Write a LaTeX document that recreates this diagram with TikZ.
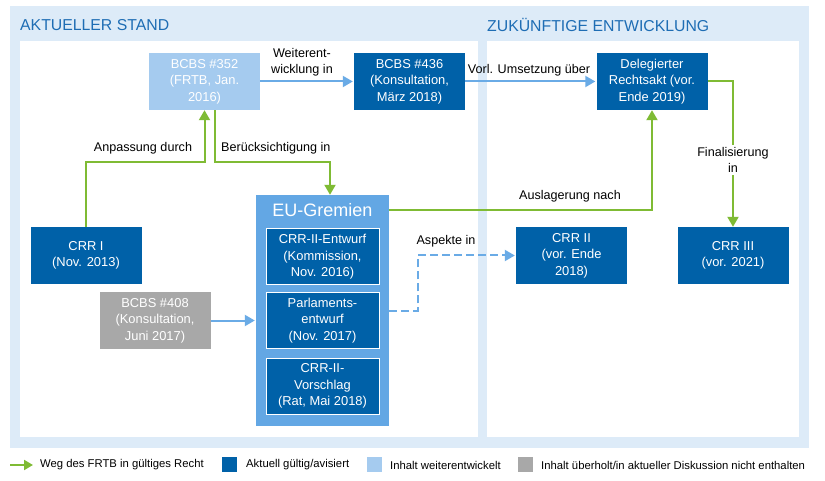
\documentclass[tikz,border=0pt]{standalone}
\usepackage{fontspec}
\setmainfont{Liberation Sans}
\usepackage{tikz}
\usetikzlibrary{arrows,arrows.meta,positioning}
\definecolor{darkblue}{HTML}{0061A8}
\definecolor{lightblue}{HTML}{A5CBEF}
\definecolor{midblue}{HTML}{63A7E4}
\definecolor{paleblue}{HTML}{DDEBF8}
\definecolor{frtbgreen}{HTML}{7FBB34}
\definecolor{arrowblue}{HTML}{6AABE6}
\definecolor{greybox}{HTML}{A8A8A8}
\definecolor{titleblue}{HTML}{1E6DB4}

\begin{document}
\begin{tikzpicture}[x=1pt,y=-1pt]
                    \tikzstyle{every node}+=[inner sep=0pt, font=\fontsize{12.6}{16.5}\selectfont]
                    \tikzstyle{box}=[minimum width=111pt, minimum height=57pt, align=center, text=white, font=\fontsize{12.9}{16.5}\selectfont]
                    \tikzstyle{dark}=[box, fill=darkblue]
                    \tikzstyle{light}=[box, fill=lightblue]
                    \tikzstyle{grey}=[box, fill=greybox]
                    \tikzstyle{inbox}=[dark, draw=white, line width=1pt, minimum width=113pt, minimum height=56pt]
                    \tikzstyle{frtbline}=[draw=frtbgreen, line width=2pt, -{Triangle[length=10pt,width=11pt]}]
                    \tikzstyle{blueline}=[draw=arrowblue, line width=2pt, -{Triangle[length=10pt,width=11pt]}, shorten >=1pt]
                    \tikzstyle{lbl}=[align=center]
                    \tikzstyle{legtext}=[anchor=west, font=\fontsize{11.3}{13}\selectfont]
                    \tikzstyle{legbox}=[minimum size=15pt]
                    \tikzstyle{paneltitle}=[anchor=west, text=titleblue, font=\fontsize{15.8}{18}\selectfont]
                    \useasboundingbox (0,0) rectangle (825,481);
                    % panels
                    \fill [paleblue] (10,6) rectangle (809,448);
                    \fill [white] (20,41) rectangle (478,437);
                    \fill [white] (487,41) rectangle (799,437);
                    \node [paneltitle] (stand) at (20,25) {AKTUELLER STAND};
                    \node [paneltitle] (zukunft) at (487,25) {ZUKÜNFTIGE ENTWICKLUNG};
                    % boxes
                    \node [light] (bcbs352) at (204.5,81.5) {BCBS \#352\\(FRTB, Jan.\\2016)};
                    \node [dark] (bcbs436) at (409.5,81.5) {BCBS \#436\\(Konsultation,\\März 2018)};
                    \node [dark] (deleg) at (652,81.5) {Delegierter\\Rechtsakt (vor.\\Ende 2019)};
                    \node [dark] (crr1) at (86,255.5) {CRR I\\(Nov. 2013)};
                    \node [grey] (bcbs408) at (155,320.5) {BCBS \#408\\(Konsultation,\\Juni 2017)};
                    \node [fill=midblue, minimum width=133pt, minimum height=231pt] (eu) at (322.5,310.5) {};
                    \node [text=white, font=\fontsize{18}{20}\selectfont] (eutitle) at (322.5,210) {EU-Gremien};
                    \node [inbox] (entwurf) at (322.5,257) {CRR-II-Entwurf\\(Kommission,\\Nov. 2016)};
                    \node [inbox] (parl) at (322.5,320.5) {Parlaments-\\entwurf\\(Nov. 2017)};
                    \node [inbox] (vorschlag) at (322.5,386) {CRR-II-\\Vorschlag\\(Rat, Mai 2018)};
                    \node [dark] (crr2) at (571.5,255.5) {CRR II\\(vor. Ende\\2018)};
                    \node [dark] (crr3) at (733,255.5) {CRR III\\(vor. 2021)};
                    % knees
                    \coordinate (k1) at (86,162);
                    \coordinate (k2) at (214.5,162);
                    \coordinate (k3) at (330,162);
                    \coordinate (k4) at (418,255.5);
                    % connectors
                    \draw [blueline] (bcbs352.east) -- (bcbs436.west);
                    \node [lbl] (weiter) at (302,62) {Weiterent-\\wicklung in};
                    \draw [blueline] (bcbs436.east) -- (deleg.west);
                    \node (vorl) at (529,70) {Vorl. Umsetzung über};
                    \draw [frtbline] (crr1.north) -- (k1) -| (bcbs352.south);
                    \node (anpassung) at (143,148) {Anpassung durch};
                    \draw [frtbline] (bcbs352.south -| k2) -- (k2) -- (k3) -- (k3 |- eu.north);
                    \node [anchor=west] (beruecks) at (221,148) {Berücksichtigung in};
                    \draw [frtbline] (eutitle -| eu.east) -| (deleg.south);
                    \node (auslagerung) at (570,196) {Auslagerung nach};
                    \draw [frtbline] (deleg.east) -| (crr3.north);
                    \node [lbl, fill=white, inner sep=2pt] (final) at (733,160) {Finalisierung\\in};
                    \draw [blueline] (bcbs408.east) -- (bcbs408.east -| eu.west);
                    \draw [blueline, dash pattern=on 8pt off 4pt] (eu.east) -| (k4) -- (crr2.west);
                    \node (aspekte) at (446,241) {Aspekte in};
                    % legend
                    \coordinate (legA) at (10,465);
                    \coordinate (legB) at (33,465);
                    \draw [frtbline, -{Triangle[length=9pt,width=10pt]}] (legA) -- (legB);
                    \node [legtext] (leg1) at (40,465) {Weg des FRTB in gültiges Recht};
                    \node [legbox, fill=darkblue] (sq1) at (229.5,464.5) {};
                    \node [legtext] (leg2) at (246,465) {Aktuell gültig/avisiert};
                    \node [legbox, fill=lightblue] (sq2) at (374.5,464.5) {};
                    \node [legtext] (leg3) at (390,465) {Inhalt weiterentwickelt};
                    \node [legbox, fill=greybox] (sq3) at (525,464.5) {};
                    \node [legtext] (leg4) at (541,465) {Inhalt überholt/in aktueller Diskussion nicht enthalten};
                \end{tikzpicture}
\end{document}
